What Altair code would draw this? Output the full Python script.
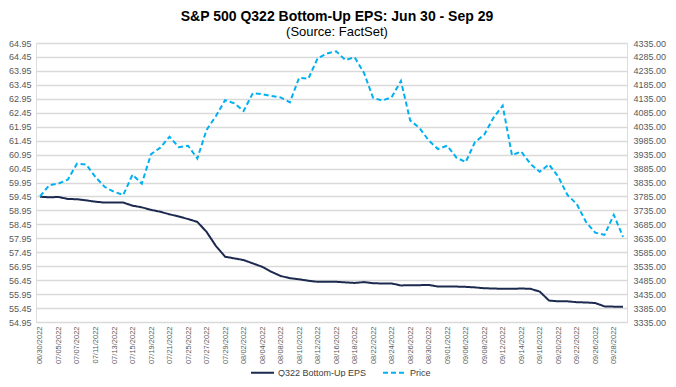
import altair as alt
import pandas as pd

dates = [
    "06/30/2022", "07/01/2022", "07/05/2022", "07/06/2022", "07/07/2022", "07/08/2022",
    "07/11/2022", "07/12/2022", "07/13/2022", "07/14/2022", "07/15/2022",
    "07/18/2022", "07/19/2022", "07/20/2022", "07/21/2022", "07/22/2022",
    "07/25/2022", "07/26/2022", "07/27/2022", "07/28/2022", "07/29/2022",
    "08/01/2022", "08/02/2022", "08/03/2022", "08/04/2022", "08/05/2022",
    "08/08/2022", "08/09/2022", "08/10/2022", "08/11/2022", "08/12/2022",
    "08/15/2022", "08/16/2022", "08/17/2022", "08/18/2022", "08/19/2022",
    "08/22/2022", "08/23/2022", "08/24/2022", "08/25/2022", "08/26/2022",
    "08/29/2022", "08/30/2022", "08/31/2022", "09/01/2022", "09/02/2022",
    "09/06/2022", "09/07/2022", "09/08/2022", "09/09/2022",
    "09/12/2022", "09/13/2022", "09/14/2022", "09/15/2022", "09/16/2022",
    "09/19/2022", "09/20/2022", "09/21/2022", "09/22/2022", "09/23/2022",
    "09/26/2022", "09/27/2022", "09/28/2022", "09/29/2022",
]

eps = [
    59.44, 59.42, 59.43, 59.36, 59.35, 59.31,
    59.26, 59.23, 59.23, 59.23, 59.12,
    59.06, 58.97, 58.90, 58.81, 58.73,
    58.64, 58.54, 58.18, 57.68, 57.29,
    57.23, 57.17, 57.05, 56.93, 56.75,
    56.60, 56.52, 56.48, 56.43, 56.39,
    56.39, 56.39, 56.37, 56.35, 56.38,
    56.34, 56.33, 56.33, 56.26, 56.27,
    56.27, 56.28, 56.22, 56.22, 56.22,
    56.21, 56.19, 56.16, 56.15,
    56.14, 56.14, 56.15, 56.14, 56.04,
    55.72, 55.69, 55.69, 55.66, 55.65,
    55.63, 55.51, 55.50, 55.50,
]

price = [
    3785.38, 3825.33, 3831.39, 3845.08, 3902.62, 3899.38,
    3854.43, 3818.80, 3801.78, 3790.38, 3863.16,
    3830.85, 3936.69, 3959.90, 3998.95, 3961.63,
    3966.84, 3921.05, 4023.61, 4072.43, 4130.29,
    4118.63, 4091.19, 4155.17, 4151.94, 4145.19,
    4140.06, 4122.47, 4210.24, 4207.27, 4280.15,
    4297.14, 4305.20, 4274.04, 4283.74, 4228.48,
    4137.99, 4128.73, 4140.77, 4199.12, 4057.66,
    4030.61, 3986.16, 3955.00, 3966.85, 3924.26,
    3908.19, 3979.87, 4006.18, 4067.36,
    4110.41, 3932.69, 3946.01, 3901.35, 3873.33,
    3899.89, 3855.93, 3789.93, 3757.99, 3693.23,
    3655.04, 3647.29, 3719.04, 3640.47,
]

series_names = ["Q322 Bottom-Up EPS", "Price"]
series_colors = ["#1B2A4E", "#00B0F0"]
series_dashes = [[1, 0], [5, 3]]

eps_ticks = [round(54.95 + 0.5 * i, 2) for i in range(21)]
price_ticks = [3335 + 50 * i for i in range(21)]
label_dates = dates[::2]

df = pd.DataFrame({"date": dates, "eps": eps, "price": price})

FONT = "Liberation Sans"
LABEL_COLOR = "#595959"

x_enc = alt.X(
    "date:O",
    sort=dates,
    scale=alt.Scale(type="point", padding=0.43),
    axis=alt.Axis(
        title=None,
        values=label_dates,
        labelAngle=270,
        labelFontSize=7.5,
        labelFont=FONT,
        labelColor=LABEL_COLOR,
        labelPadding=4,
        ticks=False,
        domain=False,
        grid=False,
    ),
)

color_enc = alt.Color(
    "series:N",
    scale=alt.Scale(domain=series_names, range=series_colors),
    legend=alt.Legend(
        title=None,
        orient="none",
        legendX=214,
        legendY=317,
        direction="horizontal",
        symbolType="stroke",
        symbolSize=529,
        symbolStrokeWidth=2,
        labelFont=FONT,
        labelFontSize=9,
        labelColor="#404040",
        labelOffset=3,
        columnPadding=12,
    ),
)
dash_enc = alt.StrokeDash(
    "series:N",
    scale=alt.Scale(domain=series_names, range=series_dashes),
    legend=alt.Legend(title=None),
)

eps_line = (
    alt.Chart(df)
    .transform_calculate(series="'Q322 Bottom-Up EPS'")
    .mark_line(strokeWidth=2)
    .encode(
        x=x_enc,
        y=alt.Y(
            "eps:Q",
            scale=alt.Scale(domain=[54.95, 64.95], nice=False, zero=False),
            axis=alt.Axis(
                title=None,
                values=eps_ticks,
                format=".2f",
                labelFont=FONT,
                labelFontSize=9,
                labelColor=LABEL_COLOR,
                labelPadding=5,
                ticks=False,
                domain=False,
                grid=True,
                gridColor="#D9D9D9",
                gridWidth=1.5,
            ),
        ),
        color=color_enc,
        strokeDash=dash_enc,
    )
)

price_line = (
    alt.Chart(df)
    .transform_calculate(series="'Price'")
    .mark_line(strokeWidth=2)
    .encode(
        x=x_enc,
        y=alt.Y(
            "price:Q",
            scale=alt.Scale(domain=[3335, 4335], nice=False, zero=False),
            axis=alt.Axis(
                title=None,
                orient="right",
                values=price_ticks,
                format=".2f",
                labelFont=FONT,
                labelFontSize=9,
                labelColor=LABEL_COLOR,
                labelPadding=6,
                ticks=False,
                domain=False,
                grid=False,
            ),
        ),
        color=color_enc,
        strokeDash=dash_enc,
    )
)

chart = (
    alt.layer(eps_line, price_line)
    .resolve_scale(y="independent")
    .properties(
        width=591,
        height=279,
        autosize=alt.AutoSizeParams(type="none"),
        padding={"left": 28, "top": 35, "right": 40, "bottom": 55},
        title=alt.TitleParams(
            text="S&P 500 Q322 Bottom-Up EPS: Jun 30 - Sep 29",
            subtitle="(Source: FactSet)",
            font=FONT,
            subtitleFont=FONT,
            fontSize=14,
            subtitleFontSize=13,
            fontWeight="bold",
            color="black",
            subtitleColor="black",
            anchor="middle",
            frame="bounds",
            offset=0,
            subtitlePadding=2,
        ),
    )
    .configure_view(stroke=None)
    .configure(background="white")
)

chart.save("out.html", embed_options={"renderer": "svg", "actions": False})
